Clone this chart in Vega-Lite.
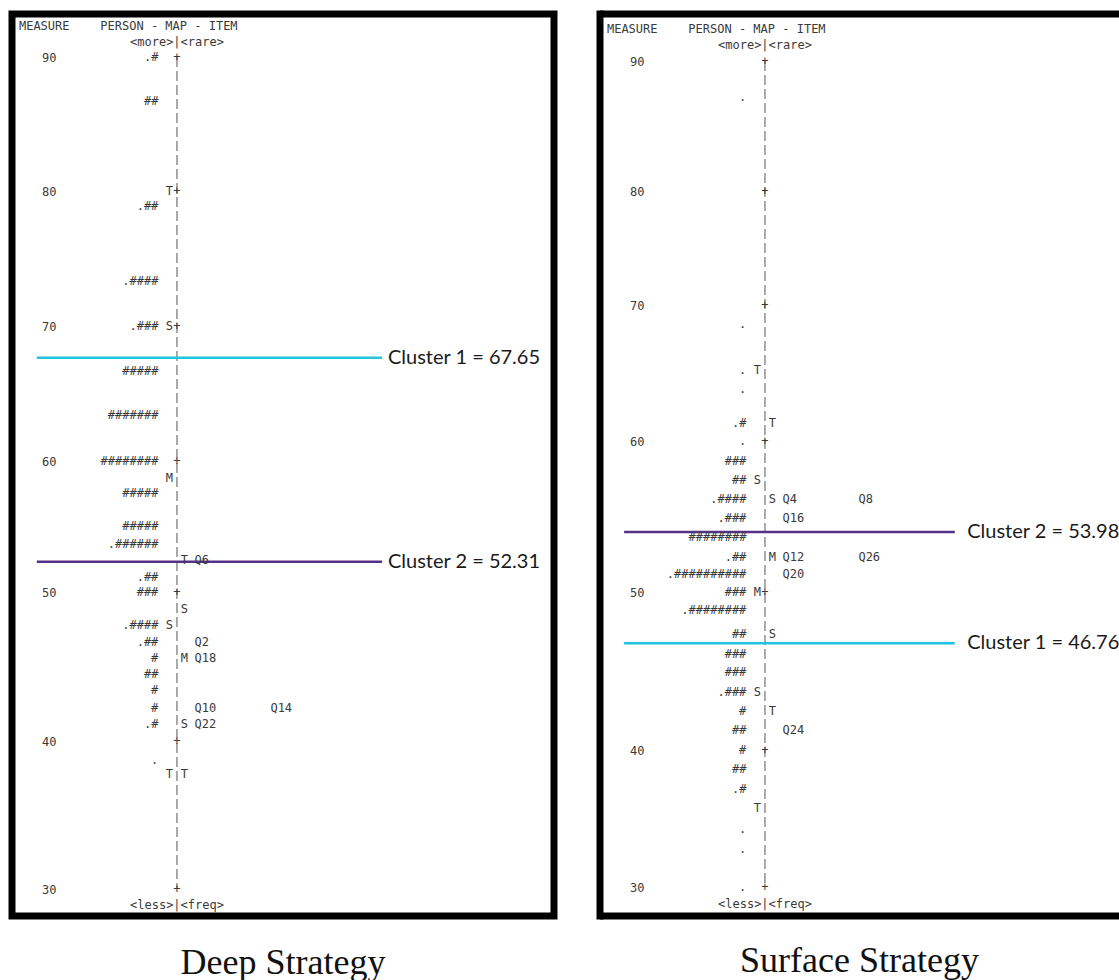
{
  "$schema": "https://vega.github.io/schema/vega-lite/v6.json",
  "padding": {"left": 8, "top": 9, "right": 0, "bottom": 0},
  "spacing": 37,
  "background": "white",
  "resolve": {"scale": {"x": "independent", "y": "independent"}},
  "config": {
    "view": {"stroke": "#000000", "strokeWidth": 7},
    "text": {"font": "DejaVu Sans Mono", "fontSize": 12, "color": "#3a3a3a"},
    "axisY": {"ticks": false, "domain": false, "grid": false, "labelPadding": 0, "offset": -44, "labelFont": "DejaVu Sans Mono", "labelFontSize": 12, "labelColor": "#3a3a3a"},
    "title": {"orient": "bottom", "frame": "group", "font": "Liberation Serif", "fontSize": 36, "fontWeight": "normal", "color": "#111111", "offset": 30, "anchor": "middle"}
  },
  "datasets": {
    "deep": [
      {"m": 92.31, "h1": "MEASURE", "h2": "PERSON - MAP - ITEM"},
      {"m": 91.12, "c": "<more>|<rare>"},
      {"m": 90, "p": ".#", "c": "+"},
      {"m": 86.72, "p": "##"},
      {"m": 80, "pm": "T", "c": "+"},
      {"m": 78.89, "p": ".##"},
      {"m": 73.33, "p": ".####"},
      {"m": 70, "p": ".###", "pm": "S", "c": "+"},
      {"m": 66.67, "p": "#####"},
      {"m": 63.41, "p": "#######"},
      {"m": 60, "p": "########", "c": "+"},
      {"m": 58.7, "pm": "M"},
      {"m": 57.56, "p": "#####"},
      {"m": 55.04, "p": "#####"},
      {"m": 53.66, "p": ".######"},
      {"m": 52.44, "im": "T", "it1": "Q6"},
      {"m": 51.15, "p": ".##"},
      {"m": 50, "p": "###", "c": "+"},
      {"m": 48.86, "im": "S"},
      {"m": 47.79, "p": ".####", "pm": "S"},
      {"m": 46.64, "p": ".##", "it1": "Q2"},
      {"m": 45.57, "p": "#", "im": "M", "it1": "Q18"},
      {"m": 44.5, "p": "##"},
      {"m": 43.42, "p": "#"},
      {"m": 42.21, "p": "#", "it1": "Q10", "it2": "Q14"},
      {"m": 41.14, "p": ".#", "im": "S", "it1": "Q22"},
      {"m": 40, "c": "+"},
      {"m": 38.72, "p": "."},
      {"m": 37.77, "pm": "T", "im": "T"},
      {"m": 30, "c": "+"},
      {"m": 28.92, "c": "<less>|<freq>"}
    ],
    "surface": [
      {"m": 92.47, "h1": "MEASURE", "h2": "PERSON - MAP - ITEM"},
      {"m": 91.2, "c": "<more>|<rare>"},
      {"m": 90, "c": "+"},
      {"m": 87.23, "p": "."},
      {"m": 80, "c": "+"},
      {"m": 70, "c": "+"},
      {"m": 68.6, "p": "."},
      {"m": 65.22, "p": ".", "pm": "T"},
      {"m": 63.82, "p": "."},
      {"m": 61.32, "p": ".#", "im": "T"},
      {"m": 60, "p": ".", "c": "+"},
      {"m": 58.68, "p": "###"},
      {"m": 57.42, "p": "##", "pm": "S"},
      {"m": 56.16, "p": ".####", "im": "S", "it1": "Q4", "it2": "Q8"},
      {"m": 54.9, "p": ".###", "it1": "Q16"},
      {"m": 53.64, "p": "########"},
      {"m": 52.32, "p": ".##", "im": "M", "it1": "Q12", "it2": "Q26"},
      {"m": 51.19, "p": ".##########", "it1": "Q20"},
      {"m": 50, "p": "###", "pm": "M", "c": "+"},
      {"m": 48.86, "p": ".########"},
      {"m": 47.34, "p": "##", "im": "S"},
      {"m": 46.08, "p": "###"},
      {"m": 44.94, "p": "###"},
      {"m": 43.67, "p": ".###", "pm": "S"},
      {"m": 42.47, "p": "#", "im": "T"},
      {"m": 41.27, "p": "##", "it1": "Q24"},
      {"m": 40, "p": "#", "c": "+"},
      {"m": 38.61, "p": "##"},
      {"m": 37.15, "p": ".#"},
      {"m": 35.77, "pm": "T"},
      {"m": 34.23, "p": "."},
      {"m": 32.77, "p": "."},
      {"m": 30, "p": ".", "c": "+"},
      {"m": 28.74, "c": "<less>|<freq>"}
    ],
    "clusters": [
      {"panel": "Deep", "cluster": "Cluster 1", "m": 67.65, "label": "Cluster 1 = 67.65"},
      {"panel": "Deep", "cluster": "Cluster 2", "m": 52.31, "label": "Cluster 2 = 52.31"},
      {"panel": "Surface", "cluster": "Cluster 2", "m": 53.98, "label": "Cluster 2 = 53.98"},
      {"panel": "Surface", "cluster": "Cluster 1", "m": 46.76, "label": "Cluster 1 = 46.76"}
    ]
  },
  "hconcat": [
    {
      "width": 542,
      "height": 902,
      "title": {"text": "Deep Strategy"},
      "data": {"name": "deep"},
      "encoding": {
        "y": {"field": "m", "type": "quantitative",
              "scale": {"domain": [28.18, 30, 40, 50, 60, 70, 80, 90, 93.2], "range": [902, 875, 727, 578, 447, 312, 177, 43, 0], "nice": false, "zero": false},
              "axis": {"values": [30, 40, 50, 60, 70, 80, 90], "title": null}}
      },
      "layer": [
        {"data": {"values": [{"m": 90, "m2": 30}]},
         "mark": {"type": "rule", "strokeDash": [10, 4], "color": "#555555", "strokeWidth": 1},
         "encoding": {"x": {"datum": 22.6, "type": "quantitative", "scale": {"domain": [0, 74.25]}, "axis": null}, "y2": {"field": "m2"}}},
        {"data": {"name": "clusters"}, "transform": [{"filter": "datum.panel == 'Deep'"}],
         "mark": {"type": "rule", "strokeWidth": 2.5},
         "encoding": {"x": {"datum": 3.4, "type": "quantitative", "scale": {"domain": [0, 74.25]}, "axis": null}, "x2": {"datum": 50.7},
                      "color": {"field": "cluster", "type": "nominal", "scale": {"domain": ["Cluster 1", "Cluster 2"], "range": ["#22c4e2", "#553288"]}, "legend": null}}},
        {"data": {"name": "clusters"}, "transform": [{"filter": "datum.panel == 'Deep'"}],
         "mark": {"type": "text", "align": "left", "font": "Lato", "fontSize": 20, "color": "#1a1a1a"},
         "encoding": {"x": {"datum": 51.5, "type": "quantitative", "scale": {"domain": [0, 74.25]}, "axis": null}, "text": {"field": "label", "type": "nominal"}}},
        {"transform": [{"filter": "datum.h1"}], "mark": {"type": "text", "align": "left"},
         "encoding": {"x": {"datum": 0.95, "type": "quantitative", "scale": {"domain": [0, 74.25]}, "axis": null}, "text": {"field": "h1", "type": "nominal"}}},
        {"transform": [{"filter": "datum.h2"}], "mark": {"type": "text", "align": "left"},
         "encoding": {"x": {"datum": 12.1, "type": "quantitative", "scale": {"domain": [0, 74.25]}, "axis": null}, "text": {"field": "h2", "type": "nominal"}}},
        {"transform": [{"filter": "datum.p"}], "mark": {"type": "text", "align": "right"},
         "encoding": {"x": {"datum": 20.05, "type": "quantitative", "scale": {"domain": [0, 74.25]}, "axis": null}, "text": {"field": "p", "type": "nominal"}}},
        {"transform": [{"filter": "datum.pm"}], "mark": {"type": "text", "align": "center"},
         "encoding": {"x": {"datum": 21.55, "type": "quantitative", "scale": {"domain": [0, 74.25]}, "axis": null}, "text": {"field": "pm", "type": "nominal"}}},
        {"transform": [{"filter": "datum.c"}], "mark": {"type": "text", "align": "center"},
         "encoding": {"x": {"datum": 22.6, "type": "quantitative", "scale": {"domain": [0, 74.25]}, "axis": null}, "text": {"field": "c", "type": "nominal"}}},
        {"transform": [{"filter": "datum.im"}], "mark": {"type": "text", "align": "center"},
         "encoding": {"x": {"datum": 23.6, "type": "quantitative", "scale": {"domain": [0, 74.25]}, "axis": null}, "text": {"field": "im", "type": "nominal"}}},
        {"transform": [{"filter": "datum.it1"}], "mark": {"type": "text", "align": "left"},
         "encoding": {"x": {"datum": 25.0, "type": "quantitative", "scale": {"domain": [0, 74.25]}, "axis": null}, "text": {"field": "it1", "type": "nominal"}}},
        {"transform": [{"filter": "datum.it2"}], "mark": {"type": "text", "align": "left"},
         "encoding": {"x": {"datum": 35.4, "type": "quantitative", "scale": {"domain": [0, 74.25]}, "axis": null}, "text": {"field": "it2", "type": "nominal"}}}
      ]
    },
    {
      "width": 519,
      "height": 902,
      "view": {"stroke": null},
      "title": {"text": "Surface Strategy", "offset": 23},
      "data": {"name": "surface"},
      "encoding": {
        "y": {"field": "m", "type": "quantitative",
              "scale": {"domain": [27.88, 30, 40, 50, 60, 70, 80, 90, 93.6], "range": [902, 873, 736, 578, 427, 291, 177, 47, 0], "nice": false, "zero": false},
              "axis": {"values": [30, 40, 50, 60, 70, 80, 90], "title": null}}
      },
      "layer": [
        {"data": {"values": [{"m": 93.6, "m2": 27.88}]},
         "mark": {"type": "rule", "strokeWidth": 7, "color": "#000000", "strokeCap": "square"},
         "encoding": {"x": {"datum": 0, "type": "quantitative", "scale": {"domain": [0, 71.1]}, "axis": null}, "y2": {"field": "m2"}}},
        {"data": {"values": [{"m": 93.6}, {"m": 27.88}]},
         "mark": {"type": "rule", "strokeWidth": 7, "color": "#000000"},
         "encoding": {"x": {"datum": 0, "type": "quantitative", "scale": {"domain": [0, 71.1]}, "axis": null}, "x2": {"datum": 71.1}}},
        {"data": {"values": [{"m": 90, "m2": 30}]},
         "mark": {"type": "rule", "strokeDash": [10, 4], "color": "#555555", "strokeWidth": 1},
         "encoding": {"x": {"datum": 22.6, "type": "quantitative", "scale": {"domain": [0, 71.1]}, "axis": null}, "y2": {"field": "m2"}}},
        {"data": {"name": "clusters"}, "transform": [{"filter": "datum.panel == 'Surface'"}],
         "mark": {"type": "rule", "strokeWidth": 2.5},
         "encoding": {"x": {"datum": 3.3, "type": "quantitative", "scale": {"domain": [0, 71.1]}, "axis": null}, "x2": {"datum": 48.6},
                      "color": {"field": "cluster", "type": "nominal", "scale": {"domain": ["Cluster 1", "Cluster 2"], "range": ["#22c4e2", "#553288"]}, "legend": null}}},
        {"data": {"name": "clusters"}, "transform": [{"filter": "datum.panel == 'Surface'"}],
         "mark": {"type": "text", "align": "left", "font": "Lato", "fontSize": 20, "color": "#1a1a1a"},
         "encoding": {"x": {"datum": 50.3, "type": "quantitative", "scale": {"domain": [0, 71.1]}, "axis": null}, "text": {"field": "label", "type": "nominal"}}},
        {"transform": [{"filter": "datum.h1"}], "mark": {"type": "text", "align": "left"},
         "encoding": {"x": {"datum": 0.95, "type": "quantitative", "scale": {"domain": [0, 71.1]}, "axis": null}, "text": {"field": "h1", "type": "nominal"}}},
        {"transform": [{"filter": "datum.h2"}], "mark": {"type": "text", "align": "left"},
         "encoding": {"x": {"datum": 12.1, "type": "quantitative", "scale": {"domain": [0, 71.1]}, "axis": null}, "text": {"field": "h2", "type": "nominal"}}},
        {"transform": [{"filter": "datum.p"}], "mark": {"type": "text", "align": "right"},
         "encoding": {"x": {"datum": 20.05, "type": "quantitative", "scale": {"domain": [0, 71.1]}, "axis": null}, "text": {"field": "p", "type": "nominal"}}},
        {"transform": [{"filter": "datum.pm"}], "mark": {"type": "text", "align": "center"},
         "encoding": {"x": {"datum": 21.55, "type": "quantitative", "scale": {"domain": [0, 71.1]}, "axis": null}, "text": {"field": "pm", "type": "nominal"}}},
        {"transform": [{"filter": "datum.c"}], "mark": {"type": "text", "align": "center"},
         "encoding": {"x": {"datum": 22.6, "type": "quantitative", "scale": {"domain": [0, 71.1]}, "axis": null}, "text": {"field": "c", "type": "nominal"}}},
        {"transform": [{"filter": "datum.im"}], "mark": {"type": "text", "align": "center"},
         "encoding": {"x": {"datum": 23.6, "type": "quantitative", "scale": {"domain": [0, 71.1]}, "axis": null}, "text": {"field": "im", "type": "nominal"}}},
        {"transform": [{"filter": "datum.it1"}], "mark": {"type": "text", "align": "left"},
         "encoding": {"x": {"datum": 25.0, "type": "quantitative", "scale": {"domain": [0, 71.1]}, "axis": null}, "text": {"field": "it1", "type": "nominal"}}},
        {"transform": [{"filter": "datum.it2"}], "mark": {"type": "text", "align": "left"},
         "encoding": {"x": {"datum": 35.4, "type": "quantitative", "scale": {"domain": [0, 71.1]}, "axis": null}, "text": {"field": "it2", "type": "nominal"}}}
      ]
    }
  ]
}
